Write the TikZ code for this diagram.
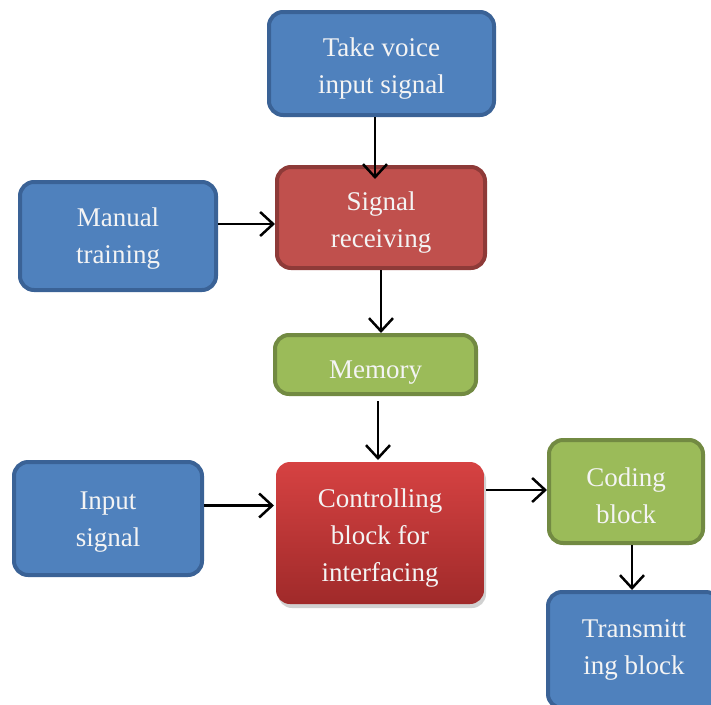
\documentclass[tikz,border=0pt]{standalone}
\usepackage{fontspec}
\setmainfont{Liberation Serif}
\usetikzlibrary{arrows.meta,shadows}
\definecolor{bfill}{HTML}{4F81BD}
\definecolor{bdraw}{HTML}{3A6296}
\definecolor{rfill}{HTML}{C0504D}
\definecolor{rdraw}{HTML}{8E3A38}
\definecolor{gfill}{HTML}{9BBB59}
\definecolor{gdraw}{HTML}{728A42}
\definecolor{ctop}{HTML}{D64242}
\definecolor{cbot}{HTML}{A02A2A}
\definecolor{txt}{HTML}{F4F4F4}
\tikzset{
  box/.style={rounded corners=14pt, line width=4pt, inner sep=0pt},
  lbl/.style={align=center, text=txt, font=\fontsize{27}{37}\selectfont, inner sep=0pt},
  bluebox/.style={box, fill=bfill, draw=bdraw},
  redbox/.style={box, fill=rfill, draw=rdraw},
  greenbox/.style={box, fill=gfill, draw=gdraw},
  ctrlbox/.style={box, top color=ctop, bottom color=cbot, draw=none,
    drop shadow={shadow xshift=2pt, shadow yshift=-4pt, fill=black!45, opacity=0.4}},
  arr/.style={line width=2.5pt, -{Straight Barb[length=13pt,width=24pt,line width=2.5pt]}}
}
\begin{document}
\begin{tikzpicture}[x=1pt,y=-1pt]
\useasboundingbox (0,0) rectangle (711,704);
\clip (0,0) rectangle (711,704);
\node[bluebox, minimum width=225pt, minimum height=103pt] (tv) at (381.5,63.5) {};
\node[lbl] (tvt) at ([yshift=-5pt]tv.center) {Take voice\\input signal};
\node[redbox, minimum width=208pt, minimum height=101pt] (sr) at (381,217.5) {};
\node[lbl] (srt) at ([yshift=-5pt]sr.center) {Signal\\receiving};
\node[bluebox, minimum width=196pt, minimum height=108pt] (mt) at (118,236) {};
\node[lbl] (mtt) at ([yshift=-3pt]mt.center) {Manual\\training};
\node[greenbox, minimum width=201pt, minimum height=59pt] (mem) at (375.5,364.5) {};
\node[lbl] (memt) at ([yshift=-8pt]mem.center) {Memory};
\node[bluebox, minimum width=188pt, minimum height=113pt] (is) at (108,518.5) {};
\node[lbl] (ist) at ([yshift=-4pt]is.center) {Input\\signal};
\node[ctrlbox, minimum width=208pt, minimum height=142pt] (cb) at (380,533) {};
\node[lbl] (cbt) at ([yshift=-5pt]cb.center) {Controlling\\block for\\interfacing};
\node[greenbox, minimum width=154pt, minimum height=103pt] (cod) at (626,491.5) {};
\node[lbl] (codt) at ([yshift=-4pt]cod.center) {Coding\\block};
\node[bluebox, minimum width=172pt, minimum height=116pt] (tr) at (634,650) {};
\node[lbl] (trt) at (634,650) {Transmitt\\ing block};

\draw[arr] ([xshift=-6.5pt]tv.south) -- ([xshift=-6pt,yshift=-14pt]sr.north);
\draw[arr] ([yshift=12pt]mt.east) -- ([yshift=12pt]mt.east -| sr.west);
\draw[arr] ([xshift=0pt]sr.south) -- ([xshift=5.5pt]mem.north);
\draw[arr] ([xshift=2.5pt,yshift=-5pt]mem.south) -- ([xshift=-2pt]cb.north);
\draw[arr] ([yshift=13pt]is.east) -- ([yshift=13pt]is.east -| cb.west);
\draw[arr] ([yshift=43pt]cb.east) -- ([yshift=43pt]cb.east -| cod.west);
\draw[arr] ([xshift=6pt]cod.south) -- ([xshift=6pt]cod.south |- tr.north);
\end{tikzpicture}
\end{document}
